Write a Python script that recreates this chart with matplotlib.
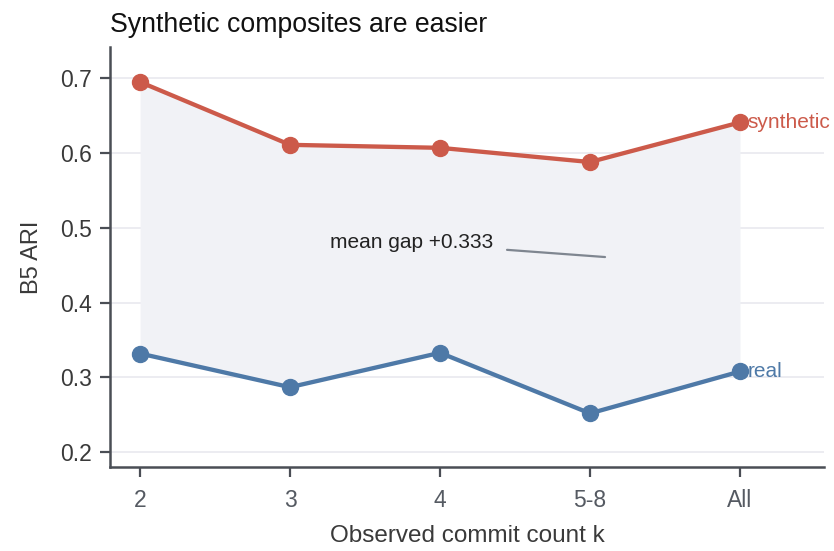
import matplotlib
matplotlib.use("Agg")
import matplotlib.pyplot as plt
import numpy as np

plt.rcParams["font.family"] = ["Liberation Sans", "DejaVu Sans"]

k_labels = ["2", "3", "4", "5-8", "All"]
synthetic_ari = [0.695, 0.611, 0.607, 0.588, 0.641]
real_ari = [0.332, 0.287, 0.333, 0.252, 0.308]
gap_text = "mean gap +0.333"

red = "#CC5A4A"
blue = "#4E79A7"
spine_color = "#4A4E55"

x = np.arange(len(k_labels))

figure, axis = plt.subplots(figsize=(8.34, 5.51), dpi=100)
figure.subplots_adjust(left=0.132, right=0.988, top=0.915, bottom=0.152)

axis.fill_between(x, real_ari, synthetic_ari, color="#F1F2F6", linewidth=0, zorder=1)
axis.plot(x, synthetic_ari, color=red, linewidth=3.1, marker="o", markersize=11.5, zorder=3)
axis.plot(x, real_ari, color=blue, linewidth=3.1, marker="o", markersize=11.5, zorder=3)

axis.text(x[-1] + 0.05, synthetic_ari[-1], "synthetic", color=red,
          fontsize=15, va="center", ha="left")
axis.text(x[-1] + 0.05, real_ari[-1], "real", color=blue,
          fontsize=15, va="center", ha="left")

axis.annotate(
    gap_text,
    xy=(3.1, 0.461),
    xytext=(1.81, 0.48),
    fontsize=15,
    color="#222222",
    ha="center",
    va="center",
    arrowprops=dict(arrowstyle="-", color="#7F8690", linewidth=1.6, shrinkA=8, shrinkB=0),
    zorder=4,
)

axis.set_xlim(-0.2, 4.56)
axis.set_ylim(0.18, 0.742)
axis.set_xticks(x)
axis.set_xticklabels(k_labels)
axis.set_yticks([0.2, 0.3, 0.4, 0.5, 0.6, 0.7])
axis.yaxis.grid(True, color="#E9E9EF", linewidth=1.2, zorder=0)
axis.set_axisbelow(True)

for side in ("top", "right"):
    axis.spines[side].set_visible(False)
for side in ("left", "bottom"):
    axis.spines[side].set_color(spine_color)
    axis.spines[side].set_linewidth(1.8)

axis.tick_params(axis="both", labelsize=16.5, labelcolor="#3A3A3A", color=spine_color,
                 length=7, width=1.6, pad=6)
axis.tick_params(axis="x", pad=9, labelcolor="#555A62")

axis.set_xlabel("Observed commit count k", fontsize=17.5, color="#3A3A3A", labelpad=9)
axis.set_ylabel("B5 ARI", fontsize=17, color="#3A3A3A", labelpad=12)
axis.set_title("Synthetic composites are easier", loc="left", fontsize=19.2, color="#111111", pad=11)

figure.savefig("out.png", dpi=100)
plt.close(figure)
